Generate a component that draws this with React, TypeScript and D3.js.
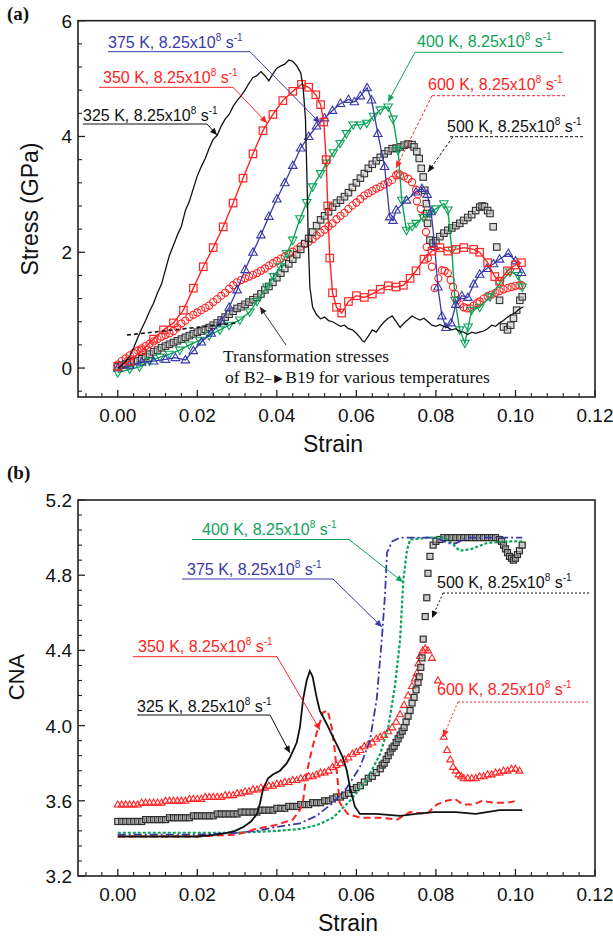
import React from 'react';
import * as d3 from 'd3';

type P = [number, number];

// ---------- Panel (a): stress vs strain ----------
const a325: P[] = [[0,0],[0.001,0.05],[0.002,0.12],[0.003,0.2],[0.004,0.35],[0.005,0.52],[0.006,0.68],[0.007,0.82],[0.008,0.98],[0.009,1.12],[0.010,1.3],[0.011,1.45],[0.012,1.7],[0.013,1.95],[0.014,2.12],[0.015,2.3],[0.016,2.45],[0.017,2.72],[0.018,2.88],[0.019,3.1],[0.020,3.32],[0.021,3.48],[0.022,3.62],[0.023,3.8],[0.024,3.95],[0.025,4.02],[0.026,4.18],[0.027,4.3],[0.028,4.38],[0.029,4.52],[0.030,4.62],[0.031,4.7],[0.032,4.8],[0.033,4.92],[0.034,5.02],[0.035,5.05],[0.036,5.12],[0.037,5.05],[0.038,4.96],[0.039,5.08],[0.040,5.18],[0.041,5.22],[0.042,5.25],[0.043,5.32],[0.044,5.3],[0.045,5.22],[0.046,5.1],[0.0466,4.85],[0.0472,4.3],[0.0476,3.2],[0.0479,2.2],[0.0483,1.4],[0.049,1.05],[0.050,0.92],[0.051,0.85],[0.052,0.88],[0.053,0.82],[0.054,0.8],[0.055,0.76],[0.056,0.72],[0.057,0.74],[0.058,0.68],[0.059,0.66],[0.060,0.6],[0.061,0.52],[0.0615,0.47],[0.062,0.45],[0.063,0.55],[0.064,0.66],[0.065,0.62],[0.066,0.72],[0.067,0.8],[0.068,0.86],[0.069,0.9],[0.070,0.8],[0.071,0.7],[0.072,0.78],[0.073,0.84],[0.074,0.9],[0.075,0.86],[0.076,0.83],[0.077,0.86],[0.078,0.8],[0.079,0.74],[0.080,0.72],[0.081,0.75],[0.082,0.72],[0.083,0.7],[0.084,0.66],[0.085,0.68],[0.086,0.63],[0.087,0.62],[0.088,0.58],[0.089,0.62],[0.090,0.6],[0.091,0.62],[0.092,0.64],[0.093,0.68],[0.094,0.74],[0.095,0.72],[0.096,0.78],[0.097,0.82],[0.098,0.88],[0.099,0.92],[0.100,0.96],[0.101,1.02],[0.102,1.06]];

const a350: P[] = [[0,0.03],[0.003,0.12],[0.006,0.3],[0.009,0.5],[0.0115,0.66],[0.014,0.78],[0.0165,1.0],[0.019,1.38],[0.0215,1.75],[0.024,2.08],[0.0265,2.44],[0.029,2.85],[0.0315,3.28],[0.034,3.7],[0.0365,4.1],[0.039,4.38],[0.0415,4.62],[0.044,4.78],[0.0462,4.9],[0.048,4.85],[0.0498,4.72],[0.051,4.55],[0.0518,4.25],[0.0524,3.6],[0.0528,2.8],[0.0533,1.9],[0.054,1.3],[0.055,1.05],[0.0563,0.95],[0.058,1.15],[0.060,1.25],[0.062,1.22],[0.064,1.28],[0.066,1.36],[0.068,1.42],[0.070,1.4],[0.0718,1.43],[0.0735,1.55],[0.075,1.68],[0.077,1.88],[0.079,2.02],[0.081,2.08],[0.083,2.02],[0.085,2.05],[0.087,2.08],[0.0895,2.05],[0.091,2.0],[0.093,1.82],[0.0948,1.58],[0.096,1.5],[0.098,1.68],[0.100,1.78],[0.1015,1.82]];

const a375: P[] = [[0,0],[0.003,0.05],[0.006,0.1],[0.009,0.12],[0.012,0.15],[0.0145,0.18],[0.017,0.14],[0.019,0.3],[0.021,0.45],[0.0235,0.6],[0.026,0.8],[0.028,1.05],[0.030,1.35],[0.032,1.7],[0.034,2.0],[0.036,2.3],[0.038,2.62],[0.040,2.92],[0.042,3.2],[0.044,3.5],[0.046,3.8],[0.048,4.0],[0.050,4.18],[0.052,4.32],[0.054,4.45],[0.056,4.57],[0.058,4.64],[0.0595,4.6],[0.061,4.7],[0.0627,4.84],[0.0638,4.63],[0.0654,4.05],[0.0671,3.48],[0.0684,2.61],[0.0692,2.55],[0.070,2.73],[0.0726,2.9],[0.075,3.04],[0.0765,3.1],[0.0778,3.0],[0.0788,2.7],[0.0797,2.1],[0.0805,1.4],[0.0815,0.9],[0.0825,0.7],[0.0838,0.78],[0.085,1.1],[0.0865,1.25],[0.088,1.22],[0.0895,1.45],[0.091,1.62],[0.0928,1.72],[0.0945,1.8],[0.096,1.88],[0.0982,1.98],[0.100,1.85],[0.1015,1.65]];

const a400: P[] = [[0,-0.08],[0.003,-0.02],[0.0055,0.02],[0.008,0.12],[0.0106,0.19],[0.013,0.24],[0.0156,0.31],[0.018,0.4],[0.0206,0.48],[0.023,0.56],[0.0257,0.66],[0.028,0.74],[0.0307,0.83],[0.0332,0.97],[0.035,1.15],[0.0375,1.4],[0.0392,1.58],[0.0408,1.75],[0.0425,1.98],[0.044,2.21],[0.0458,2.58],[0.0475,2.86],[0.049,3.13],[0.051,3.36],[0.0525,3.54],[0.0542,3.72],[0.0559,3.88],[0.0575,4.05],[0.0592,4.2],[0.061,4.2],[0.0626,4.23],[0.0643,4.35],[0.066,4.46],[0.068,4.51],[0.0692,4.3],[0.0705,3.76],[0.0714,2.9],[0.0726,2.38],[0.074,2.45],[0.075,2.5],[0.0768,2.6],[0.0785,2.67],[0.080,2.75],[0.082,2.84],[0.083,2.73],[0.084,2.04],[0.0848,1.17],[0.086,0.66],[0.0873,0.43],[0.0881,0.71],[0.089,1.0],[0.091,1.05],[0.0936,1.23],[0.096,1.46],[0.0986,1.66],[0.1007,1.6],[0.1017,1.4]];

const a500: P[] = [[0,0.02],[0.001,0.05],[0.002,0.07],[0.003,0.09],[0.004,0.11],[0.005,0.13],[0.006,0.16],[0.007,0.2],[0.008,0.24],[0.009,0.28],[0.010,0.31],[0.011,0.35],[0.012,0.38],[0.013,0.41],[0.014,0.44],[0.015,0.47],[0.016,0.5],[0.017,0.53],[0.018,0.56],[0.019,0.59],[0.020,0.62],[0.021,0.64],[0.022,0.67],[0.023,0.7],[0.024,0.74],[0.025,0.78],[0.026,0.83],[0.027,0.88],[0.028,0.93],[0.029,0.98],[0.030,1.03],[0.031,1.06],[0.032,1.1],[0.033,1.14],[0.034,1.18],[0.035,1.22],[0.036,1.28],[0.037,1.35],[0.038,1.41],[0.039,1.48],[0.040,1.56],[0.041,1.64],[0.042,1.72],[0.043,1.8],[0.044,1.88],[0.045,1.96],[0.046,2.05],[0.047,2.15],[0.048,2.24],[0.049,2.35],[0.050,2.46],[0.051,2.56],[0.052,2.63],[0.053,2.7],[0.054,2.78],[0.055,2.85],[0.056,2.9],[0.057,2.96],[0.058,3.03],[0.059,3.12],[0.060,3.2],[0.061,3.28],[0.062,3.36],[0.063,3.45],[0.064,3.52],[0.065,3.58],[0.066,3.64],[0.067,3.7],[0.068,3.75],[0.069,3.79],[0.070,3.8],[0.071,3.82],[0.072,3.85],[0.073,3.87],[0.074,3.86],[0.0745,3.82],[0.0752,3.74],[0.0758,3.62],[0.0763,3.45],[0.0768,3.3],[0.0772,3.07],[0.0776,2.84],[0.0777,2.67],[0.0779,2.5],[0.0785,2.21],[0.0793,2.16],[0.080,2.2],[0.081,2.27],[0.082,2.33],[0.083,2.38],[0.084,2.42],[0.085,2.46],[0.086,2.5],[0.087,2.55],[0.088,2.6],[0.089,2.65],[0.090,2.72],[0.091,2.78],[0.0916,2.8],[0.0922,2.79],[0.093,2.72],[0.0936,2.67],[0.0944,2.44],[0.0953,2.09],[0.096,1.17],[0.097,0.71],[0.098,0.66],[0.0988,0.74],[0.0995,0.86],[0.1003,1.0],[0.1011,1.17],[0.1017,1.23]];

const a600: P[] = [[0,0.06],[0.001,0.12],[0.002,0.17],[0.003,0.22],[0.004,0.26],[0.005,0.3],[0.006,0.34],[0.007,0.38],[0.008,0.42],[0.009,0.46],[0.010,0.5],[0.011,0.54],[0.012,0.57],[0.013,0.6],[0.014,0.64],[0.015,0.7],[0.016,0.77],[0.017,0.82],[0.018,0.88],[0.019,0.92],[0.020,0.96],[0.021,1.0],[0.022,1.04],[0.023,1.08],[0.024,1.14],[0.025,1.19],[0.026,1.25],[0.027,1.3],[0.028,1.37],[0.029,1.43],[0.030,1.48],[0.031,1.52],[0.032,1.55],[0.033,1.58],[0.034,1.61],[0.035,1.64],[0.036,1.68],[0.037,1.72],[0.038,1.77],[0.039,1.81],[0.040,1.85],[0.041,1.89],[0.042,1.93],[0.043,1.97],[0.044,2.01],[0.045,2.05],[0.046,2.1],[0.047,2.14],[0.048,2.18],[0.049,2.23],[0.050,2.29],[0.051,2.34],[0.052,2.39],[0.053,2.45],[0.054,2.5],[0.055,2.57],[0.056,2.63],[0.057,2.68],[0.058,2.75],[0.059,2.81],[0.060,2.86],[0.061,2.92],[0.062,2.98],[0.063,3.02],[0.064,3.06],[0.065,3.1],[0.066,3.13],[0.067,3.17],[0.068,3.21],[0.069,3.25],[0.070,3.33],[0.0705,3.36],[0.071,3.33],[0.072,3.31],[0.073,3.27],[0.074,3.21],[0.075,3.08],[0.0755,3.0],[0.0752,2.88],[0.0762,2.75],[0.077,2.62],[0.0775,2.35],[0.0777,2.09],[0.078,1.9],[0.079,1.75],[0.0797,1.38],[0.0806,1.55],[0.0815,1.69],[0.0822,1.68],[0.083,1.64],[0.0837,1.52],[0.0843,1.4],[0.0848,1.28],[0.0853,1.17],[0.086,1.1],[0.087,1.05],[0.0878,1.03],[0.0886,1.03],[0.0895,1.08],[0.0903,1.12],[0.091,1.15],[0.092,1.2],[0.093,1.24],[0.094,1.27],[0.095,1.3],[0.096,1.33],[0.097,1.36],[0.098,1.38],[0.099,1.4],[0.100,1.42],[0.101,1.43],[0.1016,1.43]];

const aTransformation: P[] = [[0.0023,0.57],[0.030,0.78]];

// ---------- Panel (b): CNA vs strain ----------
const b325: P[] = [[0,3.41],[0.01,3.41],[0.02,3.41],[0.025,3.42],[0.0274,3.43],[0.0295,3.44],[0.0315,3.46],[0.0335,3.49],[0.035,3.53],[0.0358,3.59],[0.0365,3.66],[0.0378,3.72],[0.039,3.74],[0.0408,3.76],[0.0425,3.8],[0.0433,3.83],[0.045,3.91],[0.0458,3.99],[0.0466,4.14],[0.0475,4.24],[0.0483,4.29],[0.049,4.26],[0.050,4.15],[0.0508,4.08],[0.0525,4.01],[0.0541,3.94],[0.0555,3.88],[0.0566,3.83],[0.0576,3.76],[0.0584,3.67],[0.0596,3.57],[0.0609,3.53],[0.065,3.53],[0.071,3.52],[0.075,3.53],[0.0793,3.54],[0.085,3.54],[0.090,3.53],[0.096,3.55],[0.1017,3.55]];

const b350: P[] = [[0,3.41],[0.01,3.41],[0.02,3.41],[0.03,3.42],[0.0346,3.45],[0.0395,3.47],[0.044,3.5],[0.0458,3.55],[0.0466,3.6],[0.0475,3.75],[0.049,3.89],[0.0503,3.98],[0.0516,4.07],[0.0528,4.08],[0.0538,3.99],[0.0545,3.88],[0.0551,3.75],[0.0558,3.59],[0.0578,3.53],[0.0609,3.51],[0.066,3.51],[0.0702,3.5],[0.0735,3.54],[0.0777,3.53],[0.0802,3.58],[0.0827,3.6],[0.0848,3.61],[0.0868,3.58],[0.0894,3.58],[0.0916,3.6],[0.0944,3.59],[0.0979,3.59],[0.1007,3.6]];

const b375: P[] = [[0,3.42],[0.01,3.42],[0.02,3.42],[0.03,3.43],[0.035,3.44],[0.0395,3.46],[0.0458,3.48],[0.050,3.52],[0.0541,3.59],[0.0576,3.67],[0.0609,3.78],[0.0634,3.92],[0.0651,4.14],[0.0664,4.46],[0.0672,4.7],[0.0677,4.92],[0.069,4.98],[0.071,5.0],[0.080,5.0],[0.083,4.97],[0.085,4.97],[0.088,5.0],[0.095,5.0],[0.1017,5.0]];

const b400: P[] = [[0,3.43],[0.01,3.43],[0.02,3.43],[0.03,3.43],[0.04,3.44],[0.0458,3.45],[0.050,3.47],[0.0541,3.51],[0.0584,3.6],[0.0626,3.71],[0.066,3.85],[0.068,3.99],[0.0697,4.21],[0.071,4.46],[0.0718,4.77],[0.0727,4.93],[0.0735,4.99],[0.078,5.0],[0.082,5.0],[0.084,4.97],[0.086,4.93],[0.089,4.94],[0.0927,4.97],[0.0978,4.98],[0.1017,4.98]];

const b500: P[] = [[0,3.49],[0.001,3.49],[0.002,3.49],[0.003,3.49],[0.004,3.49],[0.005,3.49],[0.006,3.49],[0.007,3.5],[0.008,3.5],[0.009,3.5],[0.010,3.5],[0.011,3.5],[0.012,3.5],[0.013,3.51],[0.014,3.51],[0.015,3.51],[0.016,3.51],[0.017,3.51],[0.018,3.51],[0.019,3.52],[0.020,3.52],[0.021,3.52],[0.022,3.52],[0.023,3.52],[0.024,3.52],[0.025,3.53],[0.026,3.53],[0.027,3.53],[0.028,3.53],[0.029,3.53],[0.030,3.53],[0.031,3.54],[0.032,3.54],[0.033,3.54],[0.034,3.54],[0.035,3.54],[0.036,3.55],[0.037,3.55],[0.038,3.55],[0.039,3.55],[0.040,3.56],[0.041,3.56],[0.042,3.56],[0.043,3.57],[0.044,3.57],[0.045,3.57],[0.046,3.58],[0.047,3.58],[0.048,3.58],[0.049,3.59],[0.050,3.59],[0.051,3.59],[0.052,3.6],[0.053,3.6],[0.054,3.61],[0.055,3.62],[0.056,3.62],[0.057,3.63],[0.058,3.64],[0.059,3.66],[0.060,3.67],[0.061,3.68],[0.062,3.7],[0.063,3.72],[0.064,3.73],[0.065,3.75],[0.066,3.77],[0.0665,3.79],[0.067,3.8],[0.0675,3.82],[0.068,3.84],[0.0685,3.86],[0.069,3.88],[0.0695,3.89],[0.070,3.91],[0.0705,3.93],[0.071,3.95],[0.0715,3.97],[0.072,3.99],[0.0725,4.02],[0.073,4.05],[0.0735,4.08],[0.074,4.12],[0.0745,4.15],[0.075,4.19],[0.0755,4.23],[0.0758,4.26],[0.0762,4.31],[0.0765,4.36],[0.0768,4.46],[0.0773,4.58],[0.0777,4.68],[0.078,4.81],[0.0785,4.9],[0.0793,4.96],[0.080,4.98],[0.081,4.99],[0.082,5.0],[0.083,5.0],[0.084,5.0],[0.085,5.0],[0.086,5.0],[0.087,5.0],[0.088,5.0],[0.089,5.0],[0.090,5.0],[0.091,5.0],[0.092,5.0],[0.093,5.0],[0.094,5.0],[0.095,5.0],[0.096,4.99],[0.0965,4.98],[0.097,4.96],[0.0975,4.94],[0.098,4.92],[0.0985,4.9],[0.099,4.89],[0.0995,4.88],[0.100,4.89],[0.1005,4.91],[0.101,4.93],[0.1017,4.96]];

const b600: P[] = [[0,3.58],[0.001,3.58],[0.002,3.58],[0.003,3.58],[0.004,3.58],[0.005,3.58],[0.006,3.59],[0.007,3.59],[0.008,3.59],[0.009,3.59],[0.010,3.59],[0.011,3.59],[0.012,3.6],[0.013,3.6],[0.014,3.6],[0.015,3.6],[0.016,3.6],[0.017,3.6],[0.018,3.61],[0.019,3.61],[0.020,3.61],[0.021,3.61],[0.022,3.62],[0.023,3.62],[0.024,3.62],[0.025,3.62],[0.026,3.62],[0.027,3.63],[0.028,3.63],[0.029,3.63],[0.030,3.64],[0.031,3.64],[0.032,3.65],[0.033,3.65],[0.034,3.66],[0.035,3.66],[0.036,3.67],[0.037,3.67],[0.038,3.68],[0.039,3.68],[0.040,3.69],[0.041,3.69],[0.042,3.7],[0.043,3.7],[0.044,3.71],[0.045,3.71],[0.046,3.72],[0.047,3.72],[0.048,3.73],[0.049,3.73],[0.050,3.74],[0.051,3.75],[0.052,3.75],[0.053,3.76],[0.054,3.78],[0.055,3.79],[0.056,3.8],[0.057,3.82],[0.058,3.83],[0.059,3.85],[0.060,3.86],[0.061,3.87],[0.062,3.89],[0.063,3.9],[0.064,3.91],[0.065,3.93],[0.066,3.94],[0.067,3.95],[0.068,3.97],[0.069,3.99],[0.070,4.02],[0.071,4.06],[0.072,4.11],[0.073,4.16],[0.074,4.21],[0.0747,4.25],[0.0752,4.28],[0.0756,4.33],[0.076,4.37],[0.0767,4.4],[0.0773,4.41],[0.078,4.4],[0.079,4.36],[0.0805,4.24],[0.082,3.94],[0.0828,3.87],[0.0836,3.82],[0.0843,3.78],[0.085,3.76],[0.0857,3.74],[0.0864,3.73],[0.087,3.72],[0.088,3.72],[0.089,3.72],[0.090,3.72],[0.091,3.73],[0.092,3.73],[0.093,3.74],[0.094,3.74],[0.095,3.75],[0.096,3.75],[0.097,3.76],[0.098,3.76],[0.099,3.77],[0.100,3.77],[0.101,3.76]];

// ---------- ticks ----------
const xMajor = [0, 0.02, 0.04, 0.06, 0.08, 0.10, 0.12];
const yMajorA = [0, 2, 4, 6];
const yMajorB = [3.2, 3.6, 4.0, 4.4, 4.8, 5.2];

// ---------- layout & style ----------
const W = 613, H = 937;
const LEFT = 78, RIGHT = 595;
const TOP_A = 20.7, BOT_A = 397;
const TOP_B = 500, BOT_B = 876;
const RED = '#ff2424', BLUE = '#3939a8', GREEN = '#0ea35a', BLACK = '#111';
const SANS = '"Liberation Sans", Arial, Helvetica, sans-serif';
const SERIF = '"Liberation Serif", "Times New Roman", serif';

type Ann = { temp: string; color: string; tx: number; ty: number; uy: number; ux0: number; ux1: number; from: [number, number]; to: [number, number]; dash?: string };

const annA: Ann[] = [
  { temp: '375', color: BLUE, tx: 108, ty: 48.3, uy: 51.7, ux0: 108, ux1: 250, from: [250, 51.7], to: [320, 123] },
  { temp: '350', color: RED, tx: 103, ty: 83.3, uy: 87.3, ux0: 99, ux1: 233, from: [233, 87.3], to: [267, 123] },
  { temp: '325', color: BLACK, tx: 83, ty: 120.7, uy: 124, ux0: 83, ux1: 207, from: [207, 124], to: [217, 135] },
  { temp: '400', color: GREEN, tx: 417, ty: 46.7, uy: 52.3, ux0: 415, ux1: 563, from: [415, 52.3], to: [388, 102] },
  { temp: '600', color: RED, tx: 428, ty: 90, uy: 95.7, ux0: 432, ux1: 567, from: [432, 95.7], to: [396, 168], dash: '3,2' },
  { temp: '500', color: BLACK, tx: 447, ty: 131.7, uy: 136.7, ux0: 450, ux1: 583, from: [453, 136.7], to: [428, 172], dash: '3,2' },
];
const annB: Ann[] = [
  { temp: '400', color: GREEN, tx: 202, ty: 535, uy: 539.5, ux0: 192, ux1: 349, from: [349, 539.5], to: [403, 582] },
  { temp: '375', color: BLUE, tx: 187, ty: 575, uy: 579, ux0: 182, ux1: 333, from: [333, 579], to: [382, 627] },
  { temp: '500', color: BLACK, tx: 437, ty: 588, uy: 593, ux0: 443, ux1: 590, from: [443, 593], to: [432, 618], dash: '2,2' },
  { temp: '350', color: RED, tx: 138, ty: 651.7, uy: 656.7, ux0: 133, ux1: 277, from: [277, 656.7], to: [320, 730] },
  { temp: '600', color: RED, tx: 437, ty: 695, uy: 702, ux0: 458, ux1: 590, from: [458, 702], to: [443, 737], dash: '2,2' },
  { temp: '325', color: BLACK, tx: 137, ty: 711.7, uy: 715, ux0: 137, ux1: 270, from: [270, 715], to: [290, 753] },
];

function arrowHead(from: [number, number], to: [number, number], color: string, size = 7) {
  const ang = Math.atan2(to[1] - from[1], to[0] - from[0]);
  const w = size * 0.45;
  const bx = to[0] - size * Math.cos(ang), by = to[1] - size * Math.sin(ang);
  const px = -Math.sin(ang) * w, py = Math.cos(ang) * w;
  return <polygon points={`${to[0]},${to[1]} ${bx + px},${by + py} ${bx - px},${by - py}`} fill={color} />;
}

function AnnLabel({ a }: { a: Ann }) {
  return (
    <g>
      <text x={a.tx} y={a.ty} fill={a.color} fontFamily={SANS} fontSize={16}>
        {a.temp} K, 8.25x10<tspan dy={-7} fontSize={10}>8</tspan><tspan dy={7} fontSize={16}> s</tspan><tspan dy={-7} fontSize={10}>-1</tspan>
      </text>
      <line x1={a.ux0} x2={a.ux1} y1={a.uy} y2={a.uy} stroke={a.color} strokeWidth={1} strokeDasharray={a.dash} />
      <line x1={a.from[0]} y1={a.from[1]} x2={a.to[0]} y2={a.to[1]} stroke={a.color} strokeWidth={1} strokeDasharray={a.dash} />
      {arrowHead(a.from, a.to, a.color)}
    </g>
  );
}

function Axes({ x, y, top, bottom, yMajor, yMinorStep, yDomain, fmt, panel, title, titleX, titleBase, yTitle, yTitlePos, ySize }: any) {
  const xMinor = d3.range(-0.008, 0.1201, 0.004).filter((v: number) => Math.abs(Math.round(v / 0.02) * 0.02 - v) > 1e-6);
  const yMinor = d3.range(yDomain[0], yDomain[1] + 1e-9, yMinorStep).filter((v: number) => !yMajor.some((m: number) => Math.abs(m - v) < 1e-6));
  return (
    <g>
      <rect x={LEFT} y={top} width={RIGHT - LEFT} height={bottom - top} fill="none" stroke="#222" strokeWidth={1.6} />
      {xMajor.map((v) => <line key={'xM' + v} x1={x(v)} x2={x(v)} y1={bottom} y2={bottom - 7} stroke="#222" strokeWidth={1.3} />)}
      {xMinor.map((v: number) => <line key={'xm' + v} x1={x(v)} x2={x(v)} y1={bottom} y2={bottom - 4} stroke="#222" strokeWidth={1.1} />)}
      {yMajor.map((v: number) => <line key={'yM' + v} x1={LEFT} x2={LEFT + 7} y1={y(v)} y2={y(v)} stroke="#222" strokeWidth={1.3} />)}
      {yMinor.map((v: number) => <line key={'ym' + v} x1={LEFT} x2={LEFT + 4} y1={y(v)} y2={y(v)} stroke="#222" strokeWidth={1.1} />)}
      {xMajor.map((v) => <text key={'xt' + v} x={x(v)} y={bottom + 25} textAnchor="middle" fontFamily={SANS} fontSize={19} fill="#111">{d3.format('.2f')(v)}</text>)}
      {yMajor.map((v: number) => <text key={'yt' + v} x={72} y={y(v) + 7} textAnchor="end" fontFamily={SANS} fontSize={19} fill="#111">{fmt(v)}</text>)}
      <text x={titleX} y={titleBase} textAnchor="middle" fontFamily={SANS} fontSize={23} fill="#111">{title}</text>
      <text transform={`translate(${yTitlePos[0]},${yTitlePos[1]}) rotate(-90)`} textAnchor="middle" fontFamily={SANS} fontSize={ySize} fill="#111">{yTitle}</text>
      <text x={7} y={panel === 'a' ? 20 : 479} fontFamily={SERIF} fontWeight="bold" fontSize={19} fill="#111">({panel})</text>
    </g>
  );
}

export default function App() {
  const x = d3.scaleLinear().domain([-0.01, 0.12]).range([LEFT, RIGHT]);
  const ya = d3.scaleLinear().domain([-0.5, 6]).range([BOT_A, TOP_A]);
  const yb = d3.scaleLinear().domain([3.2, 5.2]).range([BOT_B, TOP_B]);
  const lineA = d3.line<P>().x((d) => x(d[0])).y((d) => ya(d[1]));
  const lineB = d3.line<P>().x((d) => x(d[0])).y((d) => yb(d[1]));

  const square = (d: P, y: any, s: number, stroke: string, fill: string, sw: number, k: string) => (
    <rect key={k} x={x(d[0]) - s / 2} y={y(d[1]) - s / 2} width={s} height={s} fill={fill} stroke={stroke} strokeWidth={sw} />
  );
  const tri = (d: P, y: any, s: number, up: boolean, stroke: string, k: string) => {
    const cx = x(d[0]), cy = y(d[1]);
    const h = s * 0.87, sg = up ? 1 : -1;
    return <polygon key={k} points={`${cx},${cy - sg * h * 0.6} ${cx + s / 2},${cy + sg * h * 0.4} ${cx - s / 2},${cy + sg * h * 0.4}`} fill="none" stroke={stroke} strokeWidth={1.1} />;
  };

  return (
    <svg width={W} height={H} style={{ position: 'absolute', left: 0, top: 0, background: '#fff' }}>
      <rect width={W} height={H} fill="#fff" />
      {/* Panel (a) */}
      <Axes x={x} y={ya} top={TOP_A} bottom={BOT_A} yMajor={yMajorA} yMinorStep={0.4} yDomain={[-0.4, 5.6]} fmt={d3.format('d')} panel="a"
        title="Strain" titleX={333} titleBase={452} yTitle="Stress (GPa)" yTitlePos={[38, 209]} ySize={23} />
      <g>
        {a600.map((d, i) => <circle key={'c' + i} cx={x(d[0])} cy={ya(d[1])} r={3.6} fill="none" stroke={RED} strokeWidth={1.1} />)}
        {a500.map((d, i) => square(d, ya, 6.5, '#333', 'rgba(190,190,190,0.55)', 1.1, 's5' + i))}
        <path d={lineA(a400) || ''} fill="none" stroke={GREEN} strokeWidth={1.4} />
        {a400.map((d, i) => tri(d, ya, 8.5, false, GREEN, 'g' + i))}
        <path d={lineA(a375) || ''} fill="none" stroke={BLUE} strokeWidth={1.3} />
        {a375.map((d, i) => tri(d, ya, 8.5, true, BLUE, 'b' + i))}
        <path d={lineA(a350) || ''} fill="none" stroke={RED} strokeWidth={1.4} />
        {a350.map((d, i) => square(d, ya, 7.5, RED, 'none', 1.2, 'r' + i))}
        <path d={lineA(a325) || ''} fill="none" stroke={BLACK} strokeWidth={1.3} />
        <path d={lineA(aTransformation) || ''} fill="none" stroke={BLACK} strokeWidth={1.6} strokeDasharray="4,3" />
      </g>
      {annA.map((a) => <AnnLabel key={'aa' + a.temp} a={a} />)}
      <g fontFamily={SERIF} fontSize={17.5} fill="#111">
        <text x={223} y={361.7}>Transformation stresses</text>
        <text x={225} y={383.3}>of B2<tspan fontSize={14}>–►</tspan>B19 for various temperatures</text>
      </g>
      <line x1={286} y1={345} x2={260} y2={307} stroke="#333" strokeWidth={1} />
      {arrowHead([286, 345], [260, 307], '#222')}

      {/* Panel (b) */}
      <Axes x={x} y={yb} top={TOP_B} bottom={BOT_B} yMajor={yMajorB} yMinorStep={0.08} yDomain={[3.2, 5.2]} fmt={d3.format('.1f')} panel="b"
        title="Strain" titleX={348} titleBase={931} yTitle="CNA" yTitlePos={[23.5, 677]} ySize={22} />
      <g>
        {b600.map((d, i) => tri(d, yb, 7, true, RED, 't6' + i))}
        {b500.map((d, i) => square(d, yb, 6, '#2e2e2e', 'rgba(170,170,170,0.6)', 1.2, 's6' + i))}
        <path d={lineB(b400) || ''} fill="none" stroke={GREEN} strokeWidth={2.2} strokeDasharray="3,2" />
        <path d={lineB(b375) || ''} fill="none" stroke={BLUE} strokeWidth={1.8} strokeDasharray="8,3,2,3" />
        <path d={lineB(b350) || ''} fill="none" stroke={RED} strokeWidth={2} strokeDasharray="7,4" />
        <path d={lineB(b325) || ''} fill="none" stroke={BLACK} strokeWidth={1.8} />
      </g>
      {annB.map((a) => <AnnLabel key={'bb' + a.temp} a={a} />)}
    </svg>
  );
}
